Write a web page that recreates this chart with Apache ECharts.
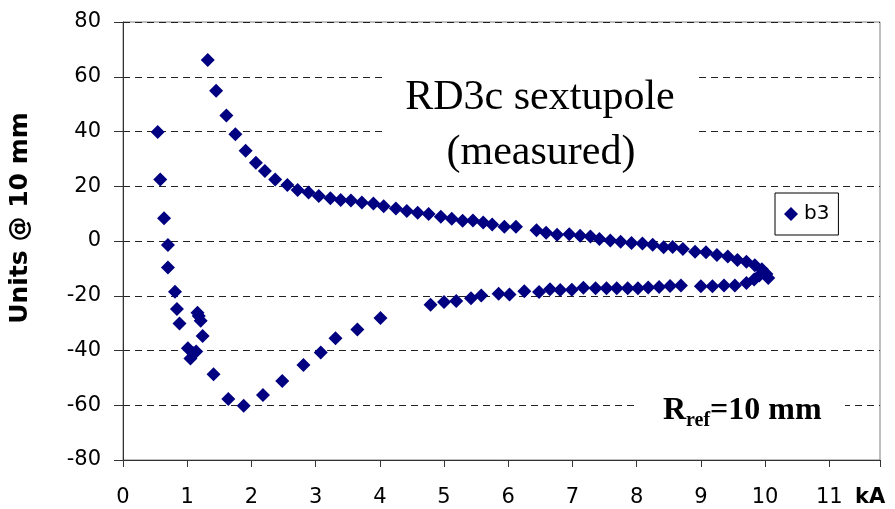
<!DOCTYPE html>
<html>
<head>
<meta charset="utf-8">
<script src="https://cdn.jsdelivr.net/npm/echarts@6/dist/echarts.min.js"></script>
<style>
html,body{margin:0;padding:0;background:#fff;}
#chart{width:895px;height:509px;}
</style>
</head>
<body>
<div id="chart"></div>
<script>
// Current (kA) and b3 sextupole (units @ 10 mm)
const currentKA = [
  1.32,1.45,1.61,1.75,1.91,2.07,2.21,2.37,2.56,2.72,2.89,3.05,3.23,3.39,3.55,3.72,3.90,4.06,4.25,4.42,
  4.59,4.76,4.95,5.12,5.29,5.45,5.61,5.75,5.94,6.12,6.44,6.59,6.76,6.95,7.12,7.28,7.42,7.59,7.75,7.92,
  8.09,8.25,8.42,8.56,8.72,8.91,9.08,9.25,9.42,9.57,9.71,9.84,9.95,10.02,10.05,
  9.91,9.83,9.71,9.53,9.36,9.18,9.00,8.69,8.52,8.35,8.18,8.02,7.86,7.69,7.53,7.36,7.17,6.99,6.81,6.65,
  6.48,6.25,6.02,5.85,5.58,5.42,5.19,5.00,4.79,4.01,3.65,3.31,3.08,2.81,2.48,2.18,1.88,1.64,1.41,
  1.24,1.21,1.18,1.16,1.14,1.10,1.05,1.01,0.88,0.84,0.81,0.70,0.70,0.64,0.58,0.54
];
const b3Units = [
  66.1,54.9,45.8,39.0,33.0,28.6,25.6,22.5,20.5,18.6,17.7,16.4,15.6,15.0,14.8,14.1,13.7,12.7,11.9,11.0,
  10.3,9.9,8.9,8.1,7.4,7.5,6.8,6.0,5.2,5.2,3.9,3.0,2.3,2.5,1.9,1.6,0.7,0.2,-0.3,-0.7,
  -0.9,-1.4,-2.3,-2.2,-2.9,-3.9,-4.1,-5.1,-5.7,-6.9,-7.6,-8.9,-10.3,-12.1,-13.5,
  -12.6,-14.1,-15.3,-16.3,-16.3,-16.5,-16.5,-16.3,-16.4,-16.8,-17.0,-17.3,-17.3,-17.3,-17.3,-17.3,-17.1,-17.8,-17.9,-17.6,
  -18.6,-18.4,-19.5,-19.3,-19.9,-20.9,-21.9,-22.3,-23.3,-28.1,-32.3,-35.5,-40.7,-45.3,-51.1,-56.3,-60.2,-57.7,-48.7,
  -34.7,-29.1,-27.4,-26.2,-40.4,-41.0,-42.9,-39.2,-30.1,-24.8,-18.5,-9.7,-1.5,8.3,22.5,39.8
];
const seriesName = 'b3';
const xTicks = [0,1,2,3,4,5,6,7,8,9,10,11];
const yTicks = [-80,-60,-40,-20,0,20,40,60,80];
const titleLines = ['RD3c sextupole', '(measured)'];

const points = currentKA.map((x, i) => [x, b3Units[i]]);
const tickFont = 'DejaVu Sans';
const serif = '"Liberation Serif","Times New Roman",serif';

const chart = echarts.init(document.getElementById('chart'), null, {renderer: 'canvas'});
chart.setOption({
  animation: false,
  backgroundColor: '#fff',
  grid: {left: 122, right: 15, top: 22, bottom: 49, show: true, borderColor: '#808080', borderWidth: 1, backgroundColor: 'transparent'},
  legend: {
    data: [seriesName], left: 775, top: 193, orient: 'vertical',
    icon: 'diamond', itemWidth: 14, itemHeight: 14, itemGap: 0,
    padding: [10, 9, 10, 9],
    borderColor: '#000', borderWidth: 1, backgroundColor: '#fff',
    itemStyle: {opacity: 1},
    textStyle: {fontFamily: tickFont, fontSize: 20, color: '#000', lineHeight: 22, padding: [0, 0, 0, 1]}
  },
  xAxis: {
    type: 'value', min: 0, max: 11.79, interval: 1,
    name: 'kA', nameLocation: 'end', nameGap: -25,
    nameTextStyle: {fontFamily: tickFont, fontWeight: 'bold', fontSize: 21, color: '#000', align: 'left', verticalAlign: 'top', padding: [27, 0, 0, 0]},
    axisLine: {show: true, onZero: false, lineStyle: {color: '#333', width: 1}},
    axisTick: {show: true, inside: false, length: 7, lineStyle: {color: '#333'}},
    axisLabel: {show: true, margin: 27, fontFamily: tickFont, fontSize: 21, color: '#000',
      formatter: v => (xTicks.indexOf(Math.round(v*1000)/1000) >= 0 ? String(v) : '')},
    splitLine: {show: false}
  },
  yAxis: {
    type: 'value', min: -80, max: 80, interval: 20,
    name: 'Units @ 10 mm', nameLocation: 'middle', nameGap: 90,
    nameTextStyle: {fontFamily: tickFont, fontWeight: 'bold', fontSize: 25, color: '#000', padding: [0, 0, 0, 46]},
    axisLine: {show: true, onZero: false, lineStyle: {color: '#333', width: 1}},
    axisTick: {show: true, inside: false, length: 9, lineStyle: {color: '#333'}},
    axisLabel: {show: true, margin: 22, fontFamily: tickFont, fontSize: 21, color: '#000',
      formatter: v => (yTicks.indexOf(v) >= 0 ? String(v) : '')},
    splitLine: {show: true, lineStyle: {color: '#222', width: 1, type: [7, 5]}}
  },
  series: [{
    name: seriesName, type: 'scatter', symbol: 'diamond', symbolSize: 14,
    itemStyle: {color: '#000080', opacity: 1}, data: points, z: 3
  }],
  graphic: [
    {type: 'rect', left: 384, top: 62, shape: {width: 312, height: 116}, style: {fill: '#fff'}, z: 10},
    {type: 'text', x: 540, y: 98, z: 11, style: {text: titleLines[0], font: '42px ' + serif, fill: '#000', align: 'center', verticalAlign: 'middle'}},
    {type: 'text', x: 541, y: 153, z: 11, style: {text: titleLines[1], font: '42px ' + serif, fill: '#000', align: 'center', verticalAlign: 'middle'}},
    {type: 'rect', left: 637, top: 393, shape: {width: 208, height: 30}, style: {fill: '#fff'}, z: 10},
    {type: 'text', x: 663, y: 411, z: 11, style: {text: 'R', font: 'bold 32px ' + serif, fill: '#000', align: 'left', verticalAlign: 'middle'}},
    {type: 'text', x: 686, y: 421, z: 11, style: {text: 'ref', font: 'bold 20px ' + serif, fill: '#000', align: 'left', verticalAlign: 'middle'}},
    {type: 'text', x: 710, y: 411, z: 11, style: {text: '=10 mm', font: 'bold 32px ' + serif, fill: '#000', align: 'left', verticalAlign: 'middle'}}
  ]
});
</script>
</body>
</html>
